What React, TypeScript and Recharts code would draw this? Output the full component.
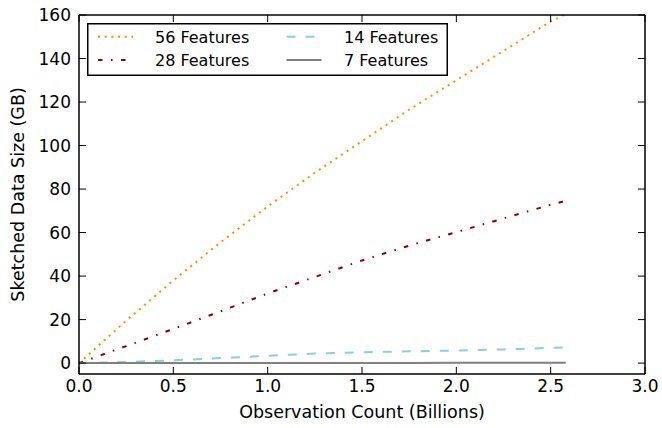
import React from 'react';
import { LineChart, Line, XAxis, YAxis, Legend, Label } from 'recharts';

const xValues = [0, 0.25, 0.5, 0.75, 1.0, 1.25, 1.5, 1.75, 2.0, 2.25, 2.5, 2.58];
const features56 = [0, 19.5, 38, 55.5, 72, 87.5, 102, 116.5, 130, 143.5, 157, 160.5];
const features28 = [0, 7.8, 15.7, 23.8, 32, 39.6, 47.2, 54.0, 60.2, 66.5, 72.8, 74.6];
const features14 = [0, 0.5, 1.3, 2.3, 3.4, 4.4, 5.0, 5.4, 5.8, 6.3, 7.0, 7.2];
const features7 = [0, 0.02, 0.03, 0.05, 0.06, 0.08, 0.09, 0.11, 0.12, 0.14, 0.15, 0.16];

const xTicks = [0, 0.5, 1.0, 1.5, 2.0, 2.5, 3.0];
const yTicks = [0, 20, 40, 60, 80, 100, 120, 140, 160];

const seriesInfo = [
  { key: 's56', name: '56 Features', color: '#FF8C00', dash: '2 4.7' },
  { key: 's28', name: '28 Features', color: '#8B0000', dash: '4.5 8.5 1.5 8.5' },
  { key: 's14', name: '14 Features', color: '#87CEEB', dash: '9 10' },
  { key: 's7', name: '7 Features', color: '#808080', dash: undefined as string | undefined },
];

const data = xValues.map((x, i) => ({
  x,
  s56: features56[i],
  s28: features28[i],
  s14: features14[i],
  s7: features7[i],
}));

const FONT = '"DejaVu Sans", sans-serif';
const TICK_LEN = 7;

const BottomTick = (props: any) => {
  const { x, y, payload } = props;
  return (
    <g>
      <line x1={x} y1={y} x2={x} y2={y - TICK_LEN} stroke="#000" strokeWidth={1} />
      <text x={x} y={y + 18} textAnchor="middle" fontSize={17} fontFamily={FONT} fill="#000">
        {Number(payload.value).toFixed(1)}
      </text>
    </g>
  );
};

const TopTick = (props: any) => {
  const { x, y } = props;
  return <line x1={x} y1={y} x2={x} y2={y + TICK_LEN} stroke="#000" strokeWidth={1} />;
};

const LeftTick = (props: any) => {
  const { x, y, payload } = props;
  return (
    <g>
      <line x1={x} y1={y} x2={x + TICK_LEN} y2={y} stroke="#000" strokeWidth={1} />
      <text x={x - 8} y={y + 6.2} textAnchor="end" fontSize={17} fontFamily={FONT} fill="#000">
        {payload.value}
      </text>
    </g>
  );
};

const RightTick = (props: any) => {
  const { x, y } = props;
  return <line x1={x} y1={y} x2={x - TICK_LEN} y2={y} stroke="#000" strokeWidth={1} />;
};

const legendOrder = [
  { s: seriesInfo[0], col: 0, row: 0 },
  { s: seriesInfo[1], col: 0, row: 1 },
  { s: seriesInfo[2], col: 1, row: 0 },
  { s: seriesInfo[3], col: 1, row: 1 },
];

const renderLegend = () => {
  const colLine = [11, 199.5];
  const colText = [68, 257];
  const rowY = [13.7, 37];
  return (
    <svg width={361} height={53} style={{ display: 'block' }}>
      <rect x={0.75} y={0.75} width={359.5} height={51.5} fill="#fff" stroke="#000" strokeWidth={1.5} />
      {legendOrder.map(({ s, col, row }) => (
        <g key={s.key}>
          <line
            x1={colLine[col]}
            x2={colLine[col] + 35}
            y1={rowY[row]}
            y2={rowY[row]}
            stroke={s.color}
            strokeWidth={2}
            strokeDasharray={s.dash}
          />
          <text x={colText[col]} y={rowY[row] + 5.8} fontSize={16} fontFamily={FONT} fill="#000">
            {s.name}
          </text>
        </g>
      ))}
    </svg>
  );
};

export default function App() {
  return (
    <div style={{ position: 'absolute', left: 0, top: 0, width: 662, height: 428, background: '#fff' }}>
      <LineChart
        width={662}
        height={428}
        data={data}
        margin={{ top: 14, right: 16, bottom: 0, left: 0 }}
        style={{ fontFamily: FONT }}
      >
        <XAxis
          dataKey="x"
          type="number"
          domain={[0, 3]}
          ticks={xTicks}
          height={54}
          tickSize={0}
          tickMargin={0}
          tickLine={false}
          tick={<BottomTick />}
          axisLine={{ stroke: '#000', strokeWidth: 1.5 }}
          interval={0}
        >
          <Label
            content={(p: any) => {
              const vb = p.viewBox;
              return (
                <text x={vb.x + vb.width / 2} y={vb.y + 44} textAnchor="middle" fontSize={17.5} fontFamily={FONT} fill="#000">
                  Observation Count (Billions)
                </text>
              );
            }}
          />
        </XAxis>
        <XAxis
          xAxisId="top"
          orientation="top"
          dataKey="x"
          type="number"
          domain={[0, 3]}
          ticks={xTicks}
          height={1}
          tickSize={0}
          tickMargin={0}
          tickLine={false}
          tick={<TopTick />}
          axisLine={{ stroke: '#000', strokeWidth: 1.5 }}
          interval={0}
        />
        <YAxis
          type="number"
          domain={[-5, 160]}
          ticks={yTicks}
          width={79}
          tickSize={0}
          tickMargin={0}
          tickLine={false}
          tick={<LeftTick />}
          axisLine={{ stroke: '#000', strokeWidth: 1.5 }}
          allowDataOverflow
          interval={0}
        >
          <Label
            content={(p: any) => {
              const vb = p.viewBox;
              const cx = vb.x + 24;
              const cy = vb.y + vb.height / 2;
              return (
                <text
                  x={cx}
                  y={cy}
                  transform={`rotate(-90, ${cx}, ${cy})`}
                  textAnchor="middle"
                  fontSize={17.5}
                  fontFamily={FONT}
                  fill="#000"
                >
                  Sketched Data Size (GB)
                </text>
              );
            }}
          />
        </YAxis>
        <YAxis
          yAxisId="right"
          orientation="right"
          type="number"
          domain={[-5, 160]}
          ticks={yTicks}
          width={1}
          tickSize={0}
          tickMargin={0}
          tickLine={false}
          tick={<RightTick />}
          axisLine={{ stroke: '#000', strokeWidth: 1.5 }}
          allowDataOverflow
          interval={0}
        />
        {seriesInfo.map((s) => (
          <Line
            key={s.key}
            type="linear"
            dataKey={s.key}
            name={s.name}
            stroke={s.color}
            strokeWidth={2}
            strokeDasharray={s.dash}
            dot={false}
            activeDot={false}
            isAnimationActive={false}
          />
        ))}
        <Legend
          layout="vertical"
          align="center"
          verticalAlign="middle"
          wrapperStyle={{ left: 87, top: 23, width: 361, height: 53 }}
          content={renderLegend}
        />
      </LineChart>
    </div>
  );
}
